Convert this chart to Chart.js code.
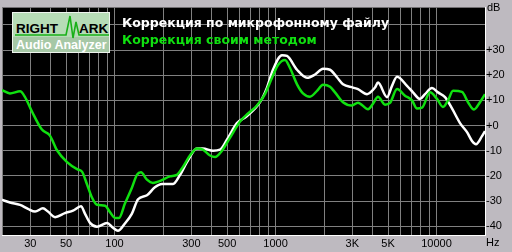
<!DOCTYPE html>
<html lang="ru">
<head>
  <meta charset="UTF-8" />
  <title>RightMark Audio Analyzer</title>
  <script src="https://cdn.jsdelivr.net/npm/chart.js"></script>
  <style>
    * { margin: 0; padding: 0; box-sizing: border-box; }
    body { background: #bebac0; width: 512px; height: 252px; overflow: hidden; }
    .wrap { position: relative; width: 512px; height: 252px; }
    canvas { position: absolute; left: 0; top: 0; }
    .txt { position: absolute; white-space: nowrap; }
    .legend { font-family: 'DejaVu Sans', sans-serif; font-weight: bold; font-size: 12.5px; left: 122px; }
    .unit { font-family: 'Liberation Sans', Arial, sans-serif; font-size: 11px; color: #000; }
    .logo { position: absolute; left: 12px; top: 12px; width: 98px; height: 41px;
            border: 1px solid #eef4ee; background: #b6dcb6; overflow: hidden; }
    .logo .band { position: absolute; left: 0; top: 24px; width: 100%; height: 16px; background: #a6c8a6; }
    .logo span { position: absolute; white-space: nowrap; font-family: 'Liberation Sans', Arial, sans-serif; font-weight: bold; }
  </style>
</head>
<body>
<div class="wrap">
  <canvas id="chart" width="512" height="252"></canvas>

  <!-- logo -->
  <div class="logo">
    <div class="band"></div>
    <span style="left:3px; top:8px; font-size:13.5px; color:#000;">RIGHT</span>
    <span style="left:66px; top:8px; font-size:13.5px; color:#000;">ARK</span>
    <svg width="98" height="41" style="position:absolute;left:0;top:0">
      <polyline points="2,22 49,22 53,22 57,3 60,25 63,9 66,22 96,22"
                fill="none" stroke="#18b018" stroke-width="1.6"/>
    </svg>
    <span style="left:3px; top:25px; font-size:12.5px; color:#fff;">Audio Analyzer</span>
  </div>

  <div class="txt legend" style="top:15px; color:#fff;">Коррекция по микрофонному файлу</div>
  <div class="txt legend" style="top:32px; color:#10e010;">Коррекция своим методом</div>

  <div class="txt unit" style="left:487px; top:1px;">dB</div>
  <div class="txt unit" style="left:486px; top:236px;">Hz</div>
</div>

<script>
  // "Коррекция своим методом" (green)
  const greenHz = [20, 22.4, 25.9, 27.8, 30.7, 35.4, 39.7, 43.9, 50.7, 58.5,
    62.8, 67.5, 72.4, 77.8, 87.3, 93.7, 100.7, 106.6, 116, 128,
    138, 146, 159, 173, 192, 221, 244, 266, 294, 325,
    354, 392, 421, 465, 522, 602, 675, 767, 860, 951,
    1036, 1145, 1230, 1360, 1481, 1637, 1810, 1972, 2180, 2340,
    2625, 2984, 3252, 3754, 4030, 4330, 4786, 5140, 5682, 6370,
    7042, 7562, 8124, 9106, 10066, 10968, 11782, 12654, 14394, 15686,
    17090, 18622, 20000];
  const greenDb = [14.1, 12.8, 13.6, 11.3, 5.6, -1.6, -4, -9.8, -14.5, -17.3,
    -18.3, -23.4, -28.6, -31.5, -31.9, -34.4, -36.7, -36.7, -31, -24.8,
    -19.5, -18.6, -21.5, -22.8, -22.0, -20.2, -19.6, -16.4, -11.9, -9.1,
    -9.6, -11.9, -12.5, -10, -4.8, 1.6, 4.8, 8, 12.5, 19,
    24.1, 26.1, 22.9, 16.4, 12.8, 11.5, 13.8, 16.2, 15.4, 13.2,
    9.3, 8, 9.1, 6.5, 8.7, 11.5, 8.3, 9, 14.5, 11.9,
    10, 6.8, 7.1, 13.2, 10.6, 7.4, 10, 13.8, 13.4, 9.3,
    6.4, 9.3, 12.5];

  // "Коррекция по микрофонному файлу" (white)
  const whiteHz = [20, 22.4, 25.9, 29.0, 32.1, 35.9, 38.6, 42.7, 49.2, 55.2,
    61.9, 65.6, 70.4, 77.8, 89.8, 97.8, 105, 116, 128, 140,
    159, 178, 197, 215, 231, 255, 286, 325, 354, 409,
    452, 500, 576, 665, 801, 885, 964, 1097, 1178, 1360,
    1568, 1759, 1972, 2180, 2408, 2625, 3028, 3252, 3700, 4148,
    4330, 4925, 5290, 5682, 6555, 7142, 7894, 8480, 9370, 10212,
    11288, 12474, 13988, 15464, 16610, 17586, 19162, 20000];
  const whiteDb = [-29.5, -30.6, -31.5, -33.1, -34.2, -32.9, -34.2, -36.4, -34.8, -33.8,
    -32.1, -35.1, -38.7, -40.2, -38.7, -40.6, -41.8, -38.9, -35.1, -29.3,
    -27.7, -24.5, -23.2, -23.2, -23.2, -19.6, -13.8, -9.1, -9.1, -10,
    -9.6, -5.5, 1, 3.8, 9.3, 15.1, 22.2, 28, 27.7, 22.2,
    19, 20.3, 22.6, 22.2, 19.2, 16.4, 15.1, 14.5, 12.5, 15.1,
    17.1, 11.3, 15.8, 19.4, 15.8, 13.2, 10.6, 12.5, 14.9, 13.2,
    11.3, 6.8, 1, -2.6, -6.1, -7.4, -4.2, -2.2];

  // grid lines and labels on the frequency axis
  const gridHz = [20, 30, 40, 50, 60, 70, 80, 90, 100,
    200, 300, 400, 500, 600, 700, 800, 900, 1000,
    2000, 3000, 4000, 5000, 6000, 7000, 8000, 9000, 10000, 20000];
  const labelHz = [30, 50, 100, 300, 500, 1000, 3000, 5000, 10000];
  const labelText = ['30', '50', '100', '300', '500', '1000', '3K', '5K', '10000'];

  const toPoints = (xs, ys) => xs.map((x, i) => ({ x: x, y: ys[i] }));

  const blackArea = {
    id: 'blackArea',
    beforeDraw(chart) {
      const { ctx, chartArea: a } = chart;
      ctx.save();
      ctx.fillStyle = '#000';
      ctx.fillRect(a.left, a.top, a.right - a.left, a.bottom - a.top);
      ctx.restore();
    }
  };

  new Chart(document.getElementById('chart'), {
    type: 'line',
    data: {
      datasets: [
        {
          label: 'Коррекция своим методом',
          data: toPoints(greenHz, greenDb),
          borderColor: '#10e010',
          borderWidth: 2.5,
          pointRadius: 0,
          cubicInterpolationMode: 'monotone'
        },
        {
          label: 'Коррекция по микрофонному файлу',
          data: toPoints(whiteHz, whiteDb),
          borderColor: '#ffffff',
          borderWidth: 2.5,
          pointRadius: 0,
          cubicInterpolationMode: 'monotone'
        }
      ]
    },
    options: {
      responsive: false,
      animation: false,
      layout: { padding: { left: 1, top: 0, right: 0, bottom: 0 } },
      plugins: { legend: { display: false }, tooltip: { enabled: false } },
      scales: {
        x: {
          type: 'logarithmic',
          min: 20,
          max: 20000,
          afterBuildTicks: s => { s.ticks = gridHz.map(v => ({ value: v })); },
          afterFit: s => { s.height = 17; },
          grid: { color: '#808080', drawTicks: false },
          border: { color: '#ffffff', width: 1 },
          ticks: {
            autoSkip: false,
            maxRotation: 0,
            padding: 2,
            color: '#000',
            font: { family: 'Liberation Sans', size: 11 },
            callback: v => {
              const i = labelHz.indexOf(v);
              return i >= 0 ? labelText[i] : '';
            }
          }
        },
        y: {
          position: 'right',
          min: -43.5,
          max: 46.9,
          afterFit: s => { s.width = 27; },
          grid: { color: '#808080', drawTicks: false },
          border: { color: '#ffffff', width: 1 },
          ticks: {
            stepSize: 10,
            includeBounds: false,
            padding: 1,
            color: '#000',
            font: { family: 'Liberation Sans', size: 11 },
            callback: v => v === 40 ? '' : (v >= 0 ? '+' : '') + v
          }
        }
      }
    },
    plugins: [blackArea]
  });
</script>
</body>
</html>
